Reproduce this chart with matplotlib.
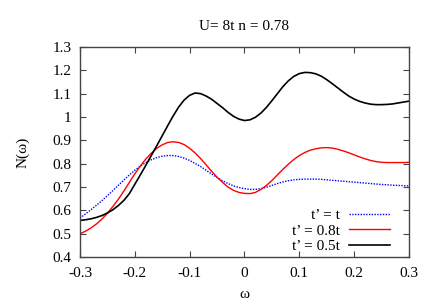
import matplotlib
matplotlib.use('Agg')
import matplotlib.pyplot as plt
from matplotlib.ticker import FuncFormatter

plt.rcParams['font.family'] = ['Liberation Serif', 'DejaVu Serif']
plt.rcParams['font.size'] = 11

# frequency grid (step 0.01)
omega = [round(-0.30 + 0.01 * i, 2) for i in range(61)]

# t' = t (blue dotted)
n_t10 = [0.567, 0.585, 0.603, 0.622, 0.642, 0.663, 0.685, 0.708, 0.730, 0.752,
         0.772, 0.790, 0.805, 0.817, 0.826, 0.832, 0.835, 0.835, 0.831, 0.824,
         0.814, 0.801, 0.788, 0.772, 0.756, 0.741, 0.727, 0.715, 0.705, 0.698,
         0.693, 0.690, 0.690, 0.693, 0.699, 0.707, 0.715, 0.722, 0.727, 0.731,
         0.733, 0.734, 0.734, 0.734, 0.733, 0.731, 0.729, 0.727, 0.725, 0.723,
         0.721, 0.719, 0.717, 0.715, 0.713, 0.711, 0.710, 0.708, 0.707, 0.706,
         0.705]

# t' = 0.8t (red)
n_t08 = [0.500, 0.511, 0.525, 0.542, 0.563, 0.588, 0.617, 0.648, 0.683, 0.720,
         0.757, 0.790, 0.820, 0.845, 0.866, 0.881, 0.891, 0.894, 0.891, 0.882,
         0.866, 0.846, 0.822, 0.795, 0.768, 0.742, 0.720, 0.700, 0.686, 0.677,
         0.673, 0.672, 0.677, 0.690, 0.707, 0.728, 0.752, 0.776, 0.798, 0.818,
         0.835, 0.848, 0.858, 0.864, 0.868, 0.869, 0.867, 0.862, 0.855, 0.847,
         0.838, 0.829, 0.821, 0.814, 0.809, 0.806, 0.805, 0.805, 0.805, 0.805,
         0.806]

# t' = 0.5t (black)
n_t05 = [0.557, 0.560, 0.564, 0.570, 0.578, 0.589, 0.603, 0.621, 0.643, 0.672,
         0.712, 0.752, 0.793, 0.835, 0.877, 0.920, 0.963, 1.005, 1.043, 1.073,
         1.093, 1.103, 1.100, 1.090, 1.076, 1.058, 1.040, 1.020, 1.003, 0.991,
         0.985, 0.988, 0.999, 1.017, 1.041, 1.070, 1.100, 1.130, 1.155, 1.174,
         1.186, 1.191, 1.190, 1.185, 1.175, 1.160, 1.143, 1.125, 1.107, 1.090,
         1.077, 1.067, 1.060, 1.055, 1.053, 1.053, 1.054, 1.056, 1.060, 1.064,
         1.068]

xticks = [-0.3, -0.2, -0.1, 0, 0.1, 0.2, 0.3]
yticks = [0.4, 0.5, 0.6, 0.7, 0.8, 0.9, 1.0, 1.1, 1.2, 1.3]

fig = plt.figure(figsize=(4.36, 3.05), dpi=100)
ax = fig.add_axes([0.1835, 0.157, 0.7545, 0.689])

ax.plot(omega, n_t10, color='#0000ff', linestyle=(0, (1, 1)), linewidth=1.0, label='t’ = t')
ax.plot(omega, n_t08, color='#ff0000', linewidth=1.0, label='t’ = 0.8t')
ax.plot(omega, n_t05, color='black', linewidth=1.2, label='t’ = 0.5t')

ax.set_xlim(-0.3, 0.3)
ax.set_ylim(0.4, 1.3)
ax.set_xticks(xticks)
ax.set_yticks(yticks)
ax.xaxis.set_major_formatter(FuncFormatter(lambda v, p: '%g' % round(v, 2)))
ax.yaxis.set_major_formatter(FuncFormatter(lambda v, p: '%g' % round(v, 2)))
ax.tick_params(direction='in', top=True, right=True, length=4, width=0.8, color='#444444')
ax.tick_params(axis='x', pad=7)
ax.tick_params(axis='y', pad=6)
for s in ax.spines.values():
    s.set_color('#444444')
    s.set_linewidth(1.0)

ax.set_title('U= 8t n = 0.78', fontsize=11, pad=12)
ax.set_xlabel('ω', labelpad=6)
ax.set_ylabel('N(ω)', labelpad=17)

ax.legend(loc='lower right', bbox_to_anchor=(0.942, 0.02), frameon=False,
          markerfirst=False, handlelength=2.7, labelspacing=0.1,
          borderaxespad=0.0, borderpad=0.0, handletextpad=0.6, fontsize=11)

fig.savefig('out.png', dpi=100)
